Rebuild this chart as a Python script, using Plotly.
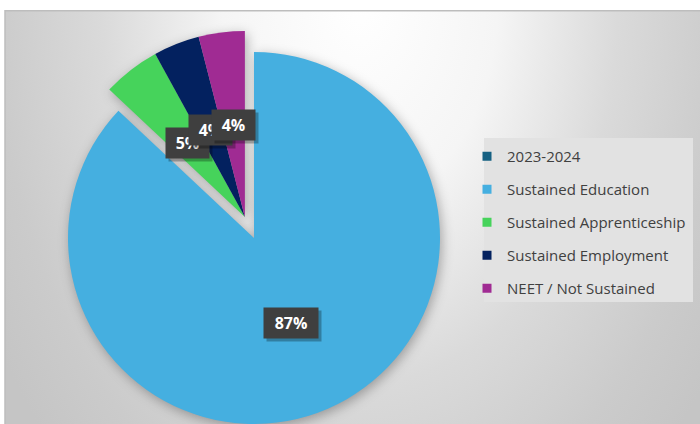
import math
import base64
import plotly.graph_objects as go

# ---- data ----
series_name = "2023-2024"
categories = ["Sustained Education", "Sustained Apprenticeship",
              "Sustained Employment", "NEET / Not Sustained"]
values = [87, 5, 4, 4]
label_text = ["87%", "5%", "4%", "4%"]
pulled = [False, True, True, True]

# ---- style ----
series_color = "#156082"
colors = ["#45AFE0", "#46D35B", "#03215F", "#A02B93"]
W, H = 700, 424
cx, cy, r = 254, 238, 186      # main pie centre / radius (px)
pull_px = 23                    # distance the pulled group is moved out

total = float(sum(values))
spans = []
acc = 0.0
for v in values:
    spans.append((acc / total * 360.0, (acc + v) / total * 360.0))
    acc += v

grp = [i for i, p in enumerate(pulled) if p]
gmid = math.radians((spans[grp[0]][0] + spans[grp[-1]][1]) / 2.0)
cx2 = cx + pull_px * math.sin(gmid)
cy2 = cy - pull_px * math.cos(gmid)


def domain(X, Y):
    return dict(x=[(X - r) / W, (X + r) / W],
                y=[max(0.0, (H - Y - r) / H), min(1.0, (H - Y + r) / H)])


clear = "rgba(0,0,0,0)"
fig = go.Figure()
fig.add_trace(go.Pie(
    values=values, labels=categories, sort=False, direction="clockwise",
    rotation=0, textinfo="none", showlegend=False, domain=domain(cx, cy),
    marker=dict(colors=[clear if p else c for c, p in zip(colors, pulled)],
                line=dict(width=0)),
    hoverinfo="label+percent"))
fig.add_trace(go.Pie(
    values=values, labels=categories, sort=False, direction="clockwise",
    rotation=0, textinfo="none", showlegend=False, domain=domain(cx2, cy2),
    marker=dict(colors=[c if p else clear for c, p in zip(colors, pulled)],
                line=dict(width=0)),
    hoverinfo="label+percent"))

# legend entries
legend_items = [(series_name, series_color)] + list(zip(categories, colors))
for k, (name, col) in enumerate(legend_items):
    fig.add_trace(go.Scatter(
        x=[None], y=[None], mode="markers", name=name, legendgroup=f"g{k}",
        marker=dict(symbol="square", size=9, color=col)))

# data labels (boxes) at half radius along each slice bisector
annotations = []
for i, (a0, a1) in enumerate(spans):
    X, Y = (cx2, cy2) if pulled[i] else (cx, cy)
    th = math.radians((a0 + a1) / 2.0)
    px = X + 0.5 * r * math.sin(th)
    py = Y - 0.5 * r * math.cos(th)
    w = 13 + 11 * len(label_text[i])
    common = dict(x=px / W, y=1 - py / H, xref="paper", yref="paper",
                  showarrow=False, width=w, height=22,
                  borderpad=4, xanchor="center", yanchor="middle")
    annotations.append(dict(common, text="&nbsp;", xshift=3, yshift=-3,
                            bgcolor="rgba(0,0,0,0.28)",
                            font=dict(color="rgba(0,0,0,0)", size=16,
                                      family="Open Sans")))
    annotations.append(dict(common, text=label_text[i], bgcolor="#3f3f3f",
                            font=dict(color="white", size=16,
                                      family="Open Sans", weight="bold")))

# background: chart area gradient, pie shadows, legend box
def sector(X, Y, a0, a1):
    p0 = (X + r * math.sin(math.radians(a0)), Y - r * math.cos(math.radians(a0)))
    p1 = (X + r * math.sin(math.radians(a1)), Y - r * math.cos(math.radians(a1)))
    large = 1 if (a1 - a0) > 180 else 0
    return (f"M{X:.1f},{Y:.1f} L{p0[0]:.1f},{p0[1]:.1f} "
            f"A{r},{r} 0 {large} 1 {p1[0]:.1f},{p1[1]:.1f} Z")

g0, g1 = spans[grp[0]][0], spans[grp[-1]][1]
main0, main1 = spans[0]
svg = f'''<svg xmlns="http://www.w3.org/2000/svg" width="{W}" height="{H}" viewBox="0 0 {W} {H}">
<defs>
<radialGradient id="g" gradientUnits="userSpaceOnUse" cx="360" cy="0" r="430"
 gradientTransform="translate(360 0) scale(1 1.49) translate(-360 0)">
<stop offset="0" stop-color="#ffffff"/>
<stop offset="0.32" stop-color="#f5f5f5"/>
<stop offset="0.6" stop-color="#dadada"/>
<stop offset="0.85" stop-color="#cbcbcb"/>
<stop offset="1" stop-color="#c5c5c5"/>
</radialGradient>
<filter id="b" x="-30%" y="-30%" width="160%" height="160%"><feGaussianBlur stdDeviation="6"/></filter>
</defs>
<rect x="5" y="10.75" width="697" height="416" fill="url(#g)" stroke="#bdbdbd" stroke-width="1.5"/>
<path d="{sector(cx + 2, cy + 3, main0, main1)}" fill="#000" fill-opacity="0.30" filter="url(#b)"/>
<path d="{sector(cx2 + 2, cy2 + 3, g0, g1)}" fill="#000" fill-opacity="0.30" filter="url(#b)"/>
<rect x="484" y="138" width="209" height="164" fill="#e2e2e2"/>
</svg>'''
src = "data:image/svg+xml;base64," + base64.b64encode(svg.encode()).decode()

fig.update_layout(
    width=W, height=H, margin=dict(l=0, r=0, t=0, b=0),
    paper_bgcolor="white", plot_bgcolor="rgba(0,0,0,0)",
    xaxis=dict(visible=False), yaxis=dict(visible=False),
    images=[dict(source=src, xref="paper", yref="paper", x=0, y=1,
                 sizex=1, sizey=1, xanchor="left", yanchor="top",
                 sizing="stretch", layer="below")],
    annotations=annotations,
    legend=dict(x=(507 - 40) / W, y=1 - 140 / H, xanchor="left", yanchor="top",
                bgcolor="rgba(0,0,0,0)", borderwidth=0,
                traceorder="grouped", tracegroupgap=10.5,
                font=dict(family="Open Sans", size=15, color="#404040")),
    showlegend=True,
)

fig.write_html("out.html")
